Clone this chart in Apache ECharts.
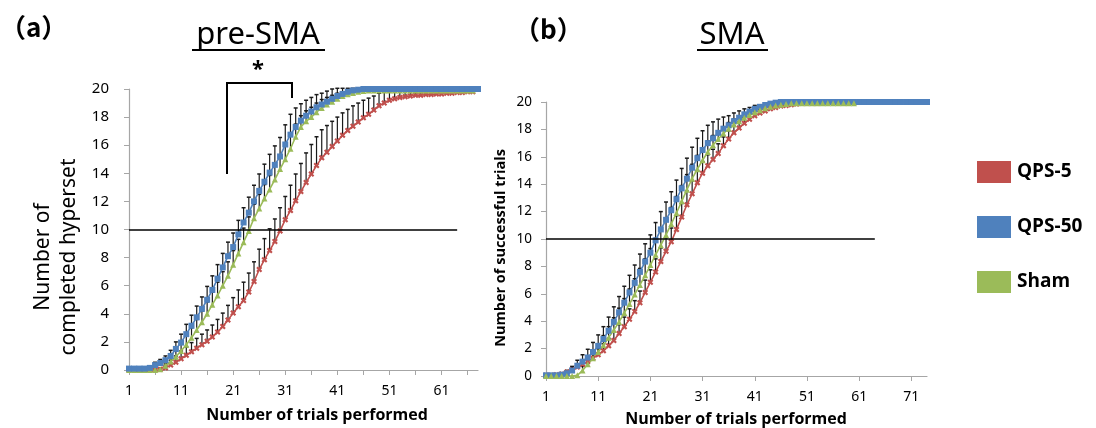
<!DOCTYPE html>
<html>
<head>
<meta charset="utf-8">
<script src="https://cdn.jsdelivr.net/npm/echarts@6/dist/echarts.min.js"></script>
<style>
  html, body { margin: 0; padding: 0; background: #fff; }
  #chart { width: 1096px; height: 428px; }
</style>
</head>
<body>
<div id="chart"></div>
<script>
// trial numbers on the x axis
const trialsA = [];
for (let i = 1; i <= 68; i++) trialsA.push(String(i));
const trialsB = [];
for (let i = 1; i <= 74; i++) trialsB.push(String(i));

// (a) pre-SMA : mean number of completed hypersets
const preQps5 = [0, 0, 0, 0, 0, 0, 0.05, 0.15, 0.35, 0.55, 0.8, 1.05, 1.3, 1.55, 1.8, 2.05, 2.35, 2.7, 3.1, 3.55,
  4.05, 4.5, 4.95, 5.55, 6.3, 7.15, 7.85, 8.5, 9.15, 9.9, 10.7, 11.35, 12.05, 12.7, 13.35, 13.95, 14.55, 15.1, 15.5, 15.9,
  16.3, 16.7, 17.05, 17.35, 17.65, 17.95, 18.2, 18.5, 18.8, 19.0, 19.2, 19.3, 19.4, 19.45, 19.5, 19.55, 19.55, 19.6, 19.6, 19.65,
  19.65, 19.7, 19.7, 19.75, 19.75, 19.8, 19.8];
const preQps50 = [0.1, 0.1, 0.1, 0.1, 0.15, 0.35, 0.5, 0.7, 1.0, 1.5, 1.95, 2.55, 3.15, 3.75, 4.35, 5.0, 5.7, 6.5, 7.3, 8.1,
  8.75, 9.65, 10.5, 11.2, 12.0, 12.75, 13.4, 14.05, 14.6, 15.2, 16.05, 16.75, 17.3, 17.75, 18.1, 18.4, 18.7, 18.9, 19.1, 19.3,
  19.5, 19.65, 19.8, 19.9, 19.95, 20, 20, 20, 20, 20, 20, 20, 20, 20, 20, 20, 20, 20, 20, 20,
  20, 20, 20, 20, 20, 20, 20, 20];
const preSham = [0, 0, 0, 0, 0, 0, 0.05, 0.3, 0.6, 0.95, 1.35, 1.8, 2.3, 2.85, 3.4, 4.0, 4.65, 5.3, 6.0, 6.7,
  7.5, 8.3, 9.1, 9.9, 10.8, 11.5, 12.2, 12.85, 13.55, 14.3, 15.0, 15.75, 16.6, 17.3, 17.7, 18.0, 18.35, 18.65, 18.9, 19.1,
  19.3, 19.5, 19.62, 19.72, 19.8, 19.85, 19.9, 19.9, 19.9, 19.9, 19.9, 19.9, 19.9, 19.9, 19.9, 19.9, 19.9, 19.9, 19.9, 19.9,
  19.9, 19.9, 19.9, 19.9, 19.9, 19.9, 19.9];
// upper error bars (SD)
const preQps5Sd = [0, 0, 0, 0, 0, 0, 0.1, 0.2, 0.35, 0.45, 0.55, 0.6, 0.65, 0.7, 0.75, 0.8, 0.85, 0.9, 0.95, 1.05,
  1.1, 1.2, 1.3, 1.35, 1.4, 1.45, 1.5, 1.55, 1.6, 1.65, 1.65, 1.8, 1.9, 2.0, 2.1, 2.1, 2.05, 2.0, 1.9, 1.8,
  1.7, 1.6, 1.5, 1.45, 1.35, 1.25, 1.15, 1.0, 0.9, 0.8, 0.7, 0.6, 0.5, 0.45, 0.4, 0.3, 0.25, 0.2, 0.15, 0.1,
  0, 0, 0, 0, 0, 0, 0];
const preQps50Sd = [0, 0, 0, 0, 0.1, 0.2, 0.25, 0.3, 0.4, 0.5, 0.6, 0.7, 0.75, 0.8, 0.85, 0.95, 1.0, 1.0, 1.0, 1.0,
  1.0, 1.0, 1.05, 1.1, 1.15, 1.2, 1.25, 1.3, 1.35, 1.35, 1.4, 1.45, 1.35, 1.2, 1.1, 1.0, 0.9, 0.8, 0.75, 0.7,
  0.55, 0.4, 0.25, 0.15, 0.05, 0, 0, 0, 0, 0, 0, 0, 0, 0, 0, 0, 0, 0, 0, 0,
  0, 0, 0, 0, 0, 0, 0, 0];
const preShamSd = [0, 0, 0, 0, 0, 0, 0, 0.2, 0.3, 0.4, 0.5, 0.6, 0.7, 0.75, 0.8, 0.85, 0.9, 0.95, 1.0, 1.0,
  1.0, 1.0, 1.0, 1.0, 1.0, 1.0, 1.0, 1.0, 1.0, 1.0, 1.0, 0.95, 0.9, 0.8, 0.75, 0.7, 0.65, 0.6, 0.5, 0.45,
  0.4, 0.3, 0.25, 0.2, 0.15, 0.1, 0.05, 0, 0, 0, 0, 0, 0, 0, 0, 0, 0, 0, 0, 0,
  0, 0, 0, 0, 0, 0, 0];

// (b) SMA : mean number of successful trials
const smaQps5 = [0.05, 0.05, 0.1, 0.15, 0.3, 0.45, 0.65, 0.85, 1.05, 1.3, 1.55, 1.85, 2.2, 2.6, 3.1, 3.6, 4.15, 4.7, 5.35, 6.1,
  6.85, 7.6, 8.35, 9.1, 9.8, 10.7, 11.6, 12.5, 13.3, 14.1, 14.8, 15.35, 15.8, 16.25, 16.8, 17.3, 17.75, 18.1, 18.45, 18.75,
  19.0, 19.2, 19.35, 19.5, 19.6, 19.7, 19.75, 19.8, 19.85, 19.9, 19.9, 19.9, 19.9, 19.95, 19.95, 19.95, 19.95, 19.95, 19.95, 19.95];
const smaQps50 = [0.05, 0.05, 0.05, 0.1, 0.2, 0.4, 0.75, 1.05, 1.35, 1.75, 2.2, 2.7, 3.3, 3.95, 4.65, 5.35, 6.1, 6.8, 7.6, 8.35,
  9.0, 9.9, 10.7, 11.4, 12.1, 12.9, 13.7, 14.4, 15.2, 15.9, 16.5, 17.0, 17.35, 17.75, 18.05, 18.3, 18.6, 18.85, 19.1, 19.3,
  19.5, 19.65, 19.78, 19.88, 19.95, 20, 20, 20, 20, 20, 20, 20, 20, 20, 20, 20, 20, 20, 20, 20,
  20, 20, 20, 20, 20, 20, 20, 20, 20, 20, 20, 20, 20, 20];
const smaSham = [0, 0, 0, 0, 0, 0, 0.05, 0.4, 0.85, 1.3, 1.75, 2.25, 2.8, 3.35, 3.95, 4.6, 5.25, 5.95, 6.65, 7.35,
  8.1, 8.85, 9.55, 10.3, 11.1, 11.9, 12.75, 13.6, 14.4, 15.1, 15.75, 16.35, 16.85, 17.3, 17.7, 18.05, 18.35, 18.6, 18.85, 19.05,
  19.25, 19.4, 19.55, 19.65, 19.75, 19.8, 19.85, 19.9, 19.9, 19.9, 19.9, 19.9, 19.9, 19.9, 19.9, 19.9, 19.9, 19.9, 19.9, 19.9];
const smaQps5Sd = [0, 0, 0, 0.05, 0.1, 0.15, 0.2, 0.3, 0.35, 0.4, 0.45, 0.5, 0.55, 0.6, 0.65, 0.7, 0.75, 0.8, 0.85, 0.9,
  0.9, 0.95, 1.0, 1.0, 1.0, 1.0, 1.0, 1.0, 0.95, 0.9, 0.85, 0.8, 0.75, 0.7, 0.65, 0.6, 0.5, 0.45, 0.4, 0.35,
  0.3, 0.25, 0.2, 0.15, 0.1, 0.05, 0, 0, 0, 0, 0, 0, 0, 0, 0, 0, 0, 0, 0, 0];
const smaQps50Sd = [0, 0, 0, 0.1, 0.2, 0.3, 0.4, 0.5, 0.6, 0.7, 0.8, 0.9, 1.0, 1.1, 1.15, 1.2, 1.25, 1.3, 1.3, 1.3,
  1.3, 1.3, 1.3, 1.3, 1.35, 1.4, 1.45, 1.5, 1.5, 1.45, 1.4, 1.3, 1.2, 1.0, 0.85, 0.7, 0.6, 0.5, 0.4, 0.3,
  0.25, 0.15, 0.1, 0.05, 0, 0, 0, 0, 0, 0, 0, 0, 0, 0, 0, 0, 0, 0, 0, 0,
  0, 0, 0, 0, 0, 0, 0, 0, 0, 0, 0, 0, 0, 0];
const smaShamSd = [0, 0, 0, 0, 0, 0, 0, 0.3, 0.4, 0.5, 0.6, 0.7, 0.8, 0.9, 1.0, 1.05, 1.1, 1.15, 1.2, 1.2,
  1.2, 1.2, 1.2, 1.2, 1.2, 1.2, 1.15, 1.1, 1.05, 1.0, 0.9, 0.8, 0.7, 0.6, 0.5, 0.45, 0.4, 0.35, 0.3, 0.25,
  0.2, 0.15, 0.1, 0.05, 0, 0, 0, 0, 0, 0, 0, 0, 0, 0, 0, 0, 0, 0, 0, 0];

const yTicks = [0, 2, 4, 6, 8, 10, 12, 14, 16, 18, 20];

const RED = '#C0504D', BLUE = '#4F81BD', GREEN = '#9BBB59';
const crossPath = 'path://M0,3L3,0L6,3L9,0L12,3L9,6L12,9L9,12L6,9L3,12L0,9L3,6Z';

const chartDom = document.getElementById('chart');
const myChart = echarts.init(chartDom);

function lineSeries(name, idx, data, color, symbol, size) {
  return {
    name: name,
    type: 'line',
    xAxisIndex: idx,
    yAxisIndex: idx,
    data: data,
    symbol: symbol,
    symbolSize: size,
    showAllSymbol: true,
    z: 3,
    lineStyle: { color: color, width: 1.6 },
    itemStyle: { color: color },
    animation: false
  };
}

// error bars drawn upward only, like the original
function errSeries(idx, data, sd) {
  return {
    type: 'custom',
    xAxisIndex: idx,
    yAxisIndex: idx,
    z: 2,
    silent: true,
    animation: false,
    data: data.map((v, i) => [i, v, sd[i]]).filter(d => d[2] > 0),
    renderItem: function (params, api) {
      const p0 = api.coord([api.value(0), api.value(1)]);
      const p1 = api.coord([api.value(0), api.value(1) + api.value(2)]);
      return {
        type: 'group',
        children: [
          { type: 'line', shape: { x1: p0[0], y1: p0[1], x2: p1[0], y2: p1[1] }, style: { stroke: '#1a1a1a', lineWidth: 1.2 } },
          { type: 'line', shape: { x1: p1[0] - 2, y1: p1[1], x2: p1[0] + 2, y2: p1[1] }, style: { stroke: '#1a1a1a', lineWidth: 1.5 } }
        ]
      };
    }
  };
}

function xAxisOf(idx, cats, tickInt, size) {
  return {
    type: 'category',
    gridIndex: idx,
    data: cats,
    boundaryGap: false,
    axisLine: { lineStyle: { color: '#a6a6a6', width: 1.2 } },
    axisTick: { interval: tickInt, length: 5, lineStyle: { color: '#a6a6a6' } },
    axisLabel: { interval: 9, color: '#000', fontSize: size, fontFamily: 'Noto Sans', margin: 14 },
    splitLine: { show: false }
  };
}

function yAxisOf(idx, size, margin) {
  return {
    type: 'value',
    gridIndex: idx,
    min: yTicks[0],
    max: yTicks[yTicks.length - 1],
    interval: yTicks[1] - yTicks[0],
    axisLine: { show: true, lineStyle: { color: '#a6a6a6', width: 1.2 } },
    axisTick: { show: true, length: 5, lineStyle: { color: '#a6a6a6' } },
    axisLabel: { color: '#000', fontSize: size, fontFamily: 'Noto Sans', margin: margin },
    splitLine: { show: false }
  };
}

const hLine = (endCat) => ({
  silent: true,
  symbol: 'none',
  label: { show: false },
  lineStyle: { color: '#000', width: 1.5, type: 'solid' },
  data: [[{ coord: ['1', 10] }, { coord: [endCat, 10] }]]
});

const option = {
  animation: false,
  backgroundColor: '#fff',
  grid: [
    { left: 129, top: 89, right: 618, bottom: 58 },
    { left: 546, top: 102, right: 169, bottom: 52 }
  ],
  xAxis: [xAxisOf(0, trialsA, 4, 14), xAxisOf(1, trialsB, 9, 14)],
  yAxis: [yAxisOf(0, 15, 20), yAxisOf(1, 13.5, 14)],
  legend: {
    data: ['QPS-5', 'QPS-50', 'Sham'],
    orient: 'vertical',
    left: 977,
    top: 161,
    padding: 0,
    icon: 'rect',
    itemWidth: 34,
    itemHeight: 22,
    itemGap: 33,
    textStyle: { color: '#000', fontSize: 19, fontWeight: 'bold', fontFamily: 'Open Sans', padding: [0, 0, 0, 1] }
  },
  series: [
    errSeries(0, preQps5, preQps5Sd),
    errSeries(0, preSham, preShamSd),
    errSeries(0, preQps50, preQps50Sd),
    Object.assign(lineSeries('QPS-5', 0, preQps5, RED, crossPath, 6), { markLine: hLine('64') }),
    lineSeries('Sham', 0, preSham, GREEN, 'triangle', 6),
    lineSeries('QPS-50', 0, preQps50, BLUE, 'rect', 6),
    errSeries(1, smaQps5, smaQps5Sd),
    errSeries(1, smaSham, smaShamSd),
    errSeries(1, smaQps50, smaQps50Sd),
    Object.assign(lineSeries('QPS-5', 1, smaQps5, RED, crossPath, 6), { markLine: hLine('64') }),
    lineSeries('QPS-50', 1, smaQps50, BLUE, 'rect', 6),
    lineSeries('Sham', 1, smaSham, GREEN, 'triangle', 6)
  ],
  graphic: [
    // panel labels and titles
    { type: 'text', left: 0, top: 14, style: { text: '（a）', font: 'bold 26px "Noto Sans CJK JP"', fill: '#000' } },
    { type: 'text', left: 514, top: 16, style: { text: '（b）', font: 'bold 26px "Noto Sans CJK JP"', fill: '#000' } },
    { type: 'text', style: { x: 258, y: 35, text: 'pre-SMA', textAlign: 'center', textVerticalAlign: 'middle', font: '31px "Noto Sans"', fill: '#000' } },
    { type: 'line', shape: { x1: 192, y1: 50, x2: 325, y2: 50 }, style: { stroke: '#000', lineWidth: 2 } },
    { type: 'text', style: { x: 732, y: 35, text: 'SMA', textAlign: 'center', textVerticalAlign: 'middle', font: '31px "Noto Sans"', fill: '#000' } },
    { type: 'line', shape: { x1: 697, y1: 50, x2: 768, y2: 50 }, style: { stroke: '#000', lineWidth: 2 } },
    // significance bracket
    { type: 'text', style: { x: 258, y: 70, text: '*', textAlign: 'center', textVerticalAlign: 'middle', font: 'bold 22px "Noto Sans"', fill: '#000' } },
    { type: 'polyline', shape: { points: [[227, 174], [227, 83], [292, 83], [292, 98]] }, style: { stroke: '#000', lineWidth: 2, fill: null } },
    // axis names
    { type: 'text', rotation: Math.PI / 2, x: 56, y: 257, style: { x: 0, y: 0, text: 'Number of\ncompleted hyperset', textAlign: 'center', textVerticalAlign: 'middle', font: '21px "Noto Sans"', lineHeight: 26, fill: '#000' } },
    { type: 'text', rotation: Math.PI / 2, x: 501, y: 248, style: { x: 0, y: 0, text: 'Number of successful trials', textAlign: 'center', textVerticalAlign: 'middle', font: 'bold 14.5px "Open Sans"', fill: '#000' } },
    { type: 'text', style: { x: 317, y: 415, text: 'Number of trials performed', textAlign: 'center', textVerticalAlign: 'middle', font: 'bold 16px "Open Sans"', fill: '#000' } },
    { type: 'text', style: { x: 736, y: 419, text: 'Number of trials performed', textAlign: 'center', textVerticalAlign: 'middle', font: 'bold 16px "Open Sans"', fill: '#000' } }
  ]
};

option && myChart.setOption(option);
</script>
</body>
</html>
